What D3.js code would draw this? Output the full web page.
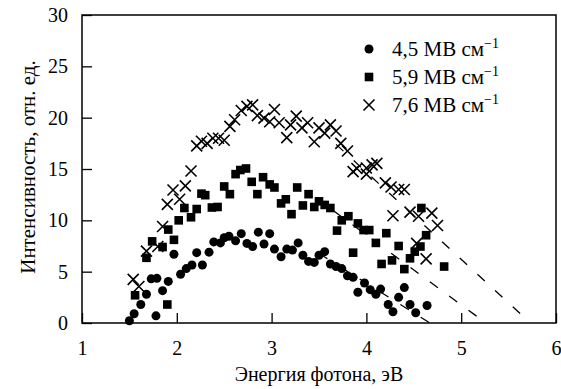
<!DOCTYPE html>
<html><head><meta charset="utf-8">
<script src="https://cdn.jsdelivr.net/npm/d3@7"></script>
<style>body{margin:0;background:#fff}svg{display:block}text{font-family:"Liberation Serif",Tinos,"Times New Roman",Times,"DejaVu Serif",serif;fill:#000}</style>
</head><body><svg id="c" width="561" height="389"></svg>
<script>
const xTicks=[1,2,3,4,5,6];
const yTicks=[0,5,10,15,20,25,30];
const seriesNames=["4,5 МВ см","5,9 МВ см","7,6 МВ см"];
const s45=[[1.50,0.22],[1.55,0.9],[1.62,1.8],[1.68,2.8],[1.73,4.3],[1.78,0.7],[1.79,4.35],[1.85,3.15],[1.91,4.05],[1.97,6.7],[2.04,4.75],[2.10,5.3],[2.16,5.65],[2.21,6.85],[2.27,5.65],[2.34,6.9],[2.39,7.9],[2.46,7.8],[2.50,8.3],[2.55,8.45],[2.62,8.0],[2.68,8.7],[2.74,7.75],[2.80,7.45],[2.86,8.85],[2.92,7.7],[2.98,8.7],[3.03,7.2],[3.10,6.45],[3.16,7.2],[3.22,7.1],[3.28,7.8],[3.33,6.6],[3.39,6.0],[3.45,5.9],[3.50,6.6],[3.56,6.95],[3.62,5.75],[3.68,5.5],[3.74,5.3],[3.80,4.6],[3.86,4.45],[3.91,3.0],[3.98,3.9],[4.04,3.25],[4.10,2.8],[4.15,3.3],[4.23,1.8],[4.28,1.1],[4.34,2.5],[4.40,3.45],[4.46,1.8],[4.52,1.0],[4.64,1.7]];
const s59=[[1.56,2.7],[1.68,6.35],[1.74,7.95],[1.85,7.4],[1.90,1.8],[1.91,9.1],[1.97,8.1],[2.02,10.0],[2.08,11.2],[2.15,10.3],[2.21,11.1],[2.26,12.6],[2.30,12.45],[2.37,11.25],[2.43,11.3],[2.50,13.3],[2.56,12.55],[2.62,14.5],[2.67,14.9],[2.73,15.05],[2.79,13.75],[2.85,12.55],[2.91,14.2],[2.98,13.5],[3.03,13.2],[3.10,11.65],[3.15,12.05],[3.21,10.6],[3.27,13.2],[3.33,11.45],[3.39,12.55],[3.45,11.3],[3.50,11.85],[3.56,11.5],[3.62,11.2],[3.69,9.0],[3.74,10.0],[3.81,10.4],[3.86,6.85],[3.91,9.7],[3.97,9.05],[4.03,9.05],[4.10,7.8],[4.16,5.75],[4.21,8.75],[4.27,6.1],[4.34,7.5],[4.40,5.25],[4.46,6.3],[4.51,6.95],[4.57,7.45],[4.58,11.2],[4.63,8.55],[4.82,5.5]];
const s76=[[1.54,4.25],[1.60,3.55],[1.68,7.0],[1.80,7.45],[1.85,9.4],[1.90,11.55],[1.96,12.95],[2.03,12.05],[2.09,13.35],[2.15,14.8],[2.21,17.25],[2.26,17.7],[2.32,17.5],[2.38,18.0],[2.44,18.0],[2.50,17.8],[2.56,19.15],[2.61,19.8],[2.68,20.7],[2.74,21.1],[2.80,21.25],[2.85,20.2],[2.92,19.95],[2.98,19.6],[3.03,20.8],[3.08,19.5],[3.16,18.05],[3.20,19.3],[3.26,20.15],[3.32,19.0],[3.38,19.5],[3.45,17.65],[3.50,19.0],[3.56,18.5],[3.62,19.3],[3.68,18.7],[3.73,17.5],[3.80,16.75],[3.86,14.75],[3.90,15.05],[4.00,14.5],[4.00,15.1],[4.06,15.4],[4.11,15.55],[4.20,13.65],[4.26,13.25],[4.28,10.45],[4.34,13.0],[4.40,13.0],[4.46,10.8],[4.53,7.75],[4.55,10.4],[4.63,6.25],[4.69,10.7],[4.75,9.5]];
const fitLines=[[[3.50,6.77],[4.67,0]],[[3.65,10.95],[5.26,0]],[[3.68,17.4],[5.73,0]]];

const FONT='"Liberation Serif",Tinos,"Times New Roman",Times,"DejaVu Serif",serif';
const svg=d3.select("#c");
const L=82,R=556,T=15,B=323;
const x=d3.scaleLinear().domain([1,6]).range([L,R]);
const y=d3.scaleLinear().domain([0,30]).range([B,T]);
const fs=20;

const gx=svg.append("g").attr("transform",`translate(0,${B})`)
 .call(d3.axisBottom(x).tickValues(xTicks).tickSizeInner(-10).tickSizeOuter(0).tickPadding(18).tickFormat(d3.format("d")));
const gy=svg.append("g").attr("transform",`translate(${L},0)`)
 .call(d3.axisLeft(y).tickValues(yTicks).tickSizeInner(-10).tickSizeOuter(0).tickPadding(14).tickFormat(d3.format("d")));
[gx,gy].forEach(g=>{g.attr("font-family",FONT).attr("font-size",fs);g.select(".domain").remove();g.selectAll("line").attr("stroke","#000").attr("stroke-width",1.3);
 g.selectAll("text").style("font-family",FONT).attr("font-size",fs).attr("fill","#000");});
svg.append("rect").attr("x",L).attr("y",T).attr("width",R-L).attr("height",B-T).attr("fill","none").attr("stroke","#000").attr("stroke-width",1.5);

svg.append("g").selectAll("line").data(fitLines).join("line")
 .attr("x1",d=>x(d[0][0])).attr("y1",d=>y(d[0][1])).attr("x2",d=>x(d[1][0])).attr("y2",d=>y(d[1][1]))
 .attr("stroke","#000").attr("stroke-width",1.3).attr("stroke-dasharray","10,14");

function circle(g){g.append("circle").attr("r",4.5).attr("fill","#000");}
function square(g){g.append("rect").attr("x",-4.3).attr("y",-4.3).attr("width",8.6).attr("height",8.6).attr("fill","#000");}
function cross(g){g.append("path").attr("d","M-5.5,-5.5L5.5,5.5M-5.5,5.5L5.5,-5.5").attr("stroke","#000").attr("stroke-width",1.6).attr("fill","none");}
const marks=[circle,square,cross];
[s45,s59,s76].forEach((s,i)=>{
 svg.append("g").selectAll("g").data(s).join("g").attr("transform",d=>`translate(${x(d[0])},${y(d[1])})`).each(function(){marks[i](d3.select(this));});
});

const legY=[49,77,105];
seriesNames.forEach((n,i)=>{
 const g=svg.append("g").attr("transform",`translate(369,${legY[i]})`);
 marks[i](g);
 const t=g.append("text").attr("x",23).attr("y",0).attr("dy","0.35em").attr("font-size",21).style("font-family",FONT);
 t.append("tspan").text(n);
 t.append("tspan").attr("font-size",14).attr("dy","-0.6em").text("−1");
});

svg.append("text").attr("x",(L+R)/2).attr("y",381).attr("text-anchor","middle").attr("font-size",fs).style("font-family",FONT).text("Энергия фотона, эВ");
svg.append("text").attr("transform","translate(35,167) rotate(-90)").attr("text-anchor","middle").attr("font-size",21).style("font-family",FONT).text("Интенсивность, отн. ед.");
</script></body></html>
